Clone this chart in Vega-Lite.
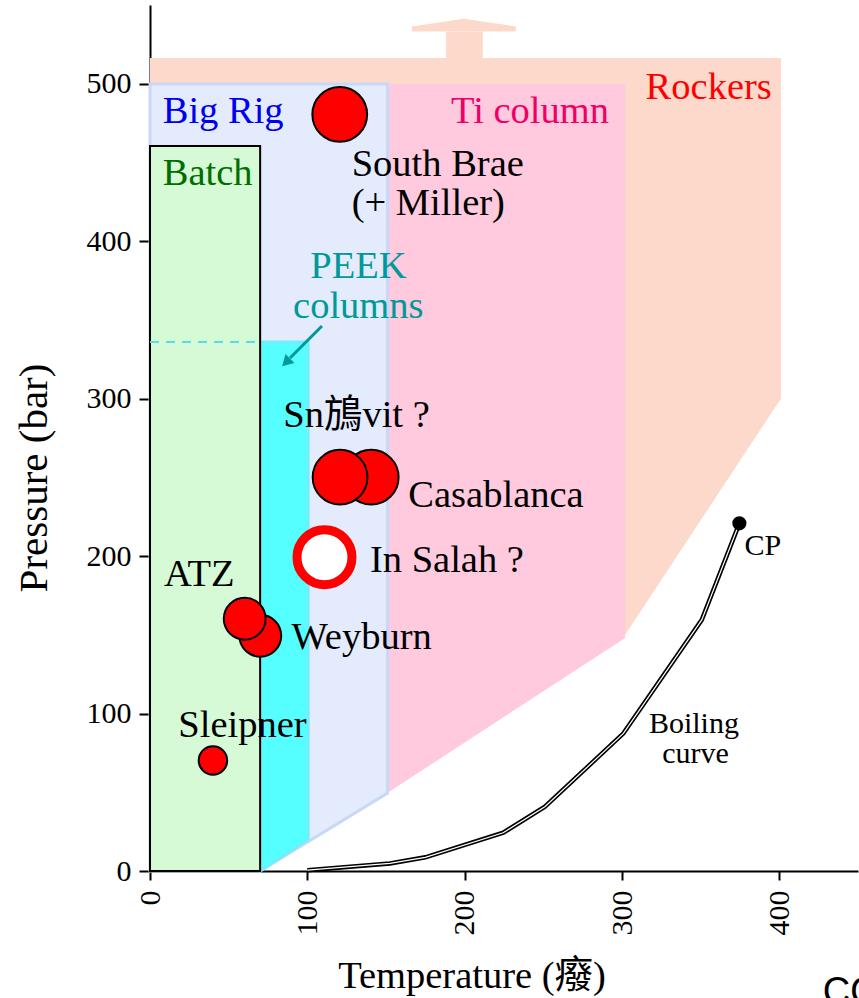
{
  "$schema": "https://vega.github.io/schema/vega-lite/v6.json",
  "width": 708,
  "height": 866,
  "autosize": {"type": "none"},
  "padding": {"left": 150, "top": 5, "right": 1, "bottom": 127},
  "background": "white",
  "config": {
    "view": {"stroke": null},
    "font": "Liberation Serif",
    "axis": {"labelFont": "Liberation Serif", "titleFont": "Liberation Serif"}
  },
  "datasets": {
    "regions": [
      {"r": "rockers", "x": 0, "y": 0, "y2": 516.4},
      {"r": "rockers", "x": 70, "y": 0, "y2": 516.4},
      {"r": "rockers", "x": 300, "y": 147, "y2": 516.4},
      {"r": "rockers", "x": 401, "y": 300, "y2": 516.4},
      {"r": "shaft", "x": 188.2, "y": 516, "y2": 533.2},
      {"r": "shaft", "x": 211.5, "y": 516, "y2": 533.2},
      {"r": "head", "x": 166.5, "y": 533.2, "y2": 536.4},
      {"r": "head", "x": 199.5, "y": 533.2, "y2": 541.3},
      {"r": "head", "x": 232.5, "y": 533.2, "y2": 536.4},
      {"r": "ti", "x": 70, "y": 0, "y2": 499.8},
      {"r": "ti", "x": 150, "y": 49, "y2": 499.8},
      {"r": "ti", "x": 302, "y": 148, "y2": 499.8},
      {"r": "bigrig", "x": 0, "y": 0, "y2": 499.8},
      {"r": "bigrig", "x": 70, "y": 0, "y2": 499.8},
      {"r": "bigrig", "x": 151, "y": 49.5, "y2": 499.8},
      {"r": "peek", "x": 70, "y": 0, "y2": 336},
      {"r": "peek", "x": 100.5, "y": 20, "y2": 336},
      {"r": "batch", "x": 0, "y": 0, "y2": 460.5},
      {"r": "batch", "x": 70, "y": 0, "y2": 460.5}
    ],
    "dash": [{"x": 0, "x2": 70, "y": 336}],
    "arrow": [{"x": 109.3, "y": 346.1, "x2": 89, "y2": 325.8}],
    "arrowhead": [{"x": 87.3, "y": 323.9}],
    "curve": [
      {"x": 100, "y": 0.5},
      {"x": 152.5, "y": 4.8},
      {"x": 175, "y": 8.7},
      {"x": 224.5, "y": 24.3},
      {"x": 251, "y": 40.8},
      {"x": 300.9, "y": 87.4},
      {"x": 350.7, "y": 159.5},
      {"x": 374.6, "y": 220.8}
    ],
    "cp": [{"x": 374.6, "y": 220.8}],
    "sites": [
      {"site": "South Brae", "x": 120.6, "y": 480.5},
      {"site": "Casablanca B", "x": 140.6, "y": 250.1},
      {"site": "Casablanca A", "x": 120.8, "y": 250.1},
      {"site": "Weyburn", "x": 70.1, "y": 149.4},
      {"site": "ATZ", "x": 60.2, "y": 160.2},
      {"site": "Sleipner", "x": 40, "y": 70.2},
      {"site": "In Salah", "x": 110.9, "y": 199.3}
    ],
    "labels": [
      {"g": "site", "text": "South Brae", "x": 128.2, "y": 441.4},
      {"g": "site", "text": "(+ Miller)", "x": 128.2, "y": 416.6},
      {"g": "site", "text": "Sn鴋vit ?", "x": 84.7, "y": 282.2},
      {"g": "site", "text": "Casablanca", "x": 164.2, "y": 231.3},
      {"g": "site", "text": "In Salah ?", "x": 139.8, "y": 190.1},
      {"g": "site", "text": "ATZ", "x": 8.9, "y": 181},
      {"g": "site", "text": "Weyburn", "x": 90, "y": 140.8},
      {"g": "site", "text": "Sleipner", "x": 18, "y": 85.3},
      {"g": "bigrig", "text": "Big Rig", "x": 8.1, "y": 475.3},
      {"g": "batch", "text": "Batch", "x": 8.1, "y": 435.7},
      {"g": "ti", "text": "Ti column", "x": 291.7, "y": 475.3},
      {"g": "rockers", "text": "Rockers", "x": 395.2, "y": 490.3},
      {"g": "peek", "text": "PEEK", "x": 132.5, "y": 376.4},
      {"g": "peek", "text": "columns", "x": 132.4, "y": 351},
      {"g": "boil", "text": "Boiling", "x": 345.7, "y": 87.4},
      {"g": "boil", "text": "curve", "x": 346.7, "y": 68.4},
      {"g": "cp", "text": "CP", "x": 377.8, "y": 200.7},
      {"g": "co", "text": "CO₂", "x": 427.6, "y": -84.5}
    ]
  },
  "encoding": {
    "x": {
      "field": "x",
      "type": "quantitative",
      "scale": {"domain": [0, 450], "nice": false, "zero": false},
      "axis": {
        "values": [0, 100, 200, 300, 400],
        "grid": false,
        "domainColor": "black",
        "domainWidth": 2,
        "tickColor": "black",
        "tickWidth": 2,
        "tickSize": 9,
        "labelAngle": -90,
        "labelPadding": 10,
        "labelFont": "Liberation Serif",
        "labelFontSize": 30,
        "labelColor": "black",
        "title": "Temperature (癈)",
        "titleFont": "Liberation Serif, Noto Sans CJK SC",
        "titleFontSize": 38.5,
        "titleFontWeight": "normal",
        "titleColor": "black",
        "titleX": 321.5,
        "titleY": 116,
        "titleBaseline": "alphabetic",
        "titleAlign": "center"
      }
    },
    "y": {
      "field": "y",
      "type": "quantitative",
      "scale": {"domain": [0, 550], "nice": false, "zero": false},
      "axis": {
        "values": [0, 100, 200, 300, 400, 500],
        "grid": false,
        "domainColor": "black",
        "domainWidth": 2,
        "tickColor": "black",
        "tickWidth": 2,
        "tickSize": 11,
        "labelPadding": 8,
        "labelFont": "Liberation Serif",
        "labelFontSize": 30,
        "labelColor": "black",
        "title": "Pressure (bar)",
        "titleFont": "Liberation Serif",
        "titleFontSize": 41,
        "titleFontWeight": "normal",
        "titleColor": "black",
        "titleAngle": -90,
        "titleX": -104,
        "titleY": 472.5,
        "titleBaseline": "alphabetic",
        "titleAlign": "center"
      }
    }
  },
  "layer": [
    {
      "data": {"name": "regions"},
      "transform": [{"filter": "datum.r == 'rockers'"}],
      "mark": {"type": "area", "orient": "vertical", "color": "#FDD9CC"},
      "encoding": {"y2": {"field": "y2"}}
    },
    {
      "data": {"name": "regions"},
      "transform": [{"filter": "datum.r == 'shaft'"}],
      "mark": {"type": "area", "orient": "vertical", "color": "#FDD9CC"},
      "encoding": {"y2": {"field": "y2"}}
    },
    {
      "data": {"name": "regions"},
      "transform": [{"filter": "datum.r == 'head'"}],
      "mark": {"type": "area", "orient": "vertical", "color": "#FDD9CC"},
      "encoding": {"y2": {"field": "y2"}}
    },
    {
      "data": {"name": "regions"},
      "transform": [{"filter": "datum.r == 'ti'"}],
      "mark": {"type": "area", "orient": "vertical", "color": "#FFC9DE"},
      "encoding": {"y2": {"field": "y2"}}
    },
    {
      "data": {"name": "regions"},
      "transform": [{"filter": "datum.r == 'bigrig'"}],
      "mark": {"type": "area", "orient": "vertical", "color": "#E3EBFD", "stroke": "#C8D8F8", "strokeWidth": 3},
      "encoding": {"y2": {"field": "y2"}}
    },
    {
      "data": {"name": "regions"},
      "transform": [{"filter": "datum.r == 'peek'"}],
      "mark": {"type": "area", "orient": "vertical", "color": "#55FFFF", "stroke": "#70EEFF", "strokeWidth": 3},
      "encoding": {"y2": {"field": "y2"}}
    },
    {
      "data": {"name": "regions"},
      "transform": [{"filter": "datum.r == 'batch'"}],
      "mark": {"type": "area", "orient": "vertical", "color": "#D5FAD5", "stroke": "black", "strokeWidth": 2},
      "encoding": {"y2": {"field": "y2"}}
    },
    {
      "data": {"name": "dash"},
      "mark": {"type": "rule", "color": "#55DDEE", "strokeWidth": 2, "strokeDash": [9, 7]},
      "encoding": {"x2": {"field": "x2"}}
    },
    {
      "data": {"name": "curve"},
      "mark": {"type": "line", "color": "black", "strokeWidth": 4.5},
      "encoding": {"order": {"field": "x"}}
    },
    {
      "data": {"name": "curve"},
      "mark": {"type": "line", "color": "white", "strokeWidth": 1.2},
      "encoding": {"order": {"field": "x"}}
    },
    {
      "data": {"name": "cp"},
      "mark": {"type": "point", "shape": "circle", "filled": true, "color": "black", "size": 200, "opacity": 1}
    },
    {
      "data": {"name": "sites"},
      "transform": [{"filter": "datum.site == 'South Brae' || datum.site == 'Casablanca A' || datum.site == 'Casablanca B'"}],
      "mark": {"type": "point", "shape": "circle", "fill": "#FF0000", "stroke": "black", "strokeWidth": 2, "size": 3000, "opacity": 1, "fillOpacity": 1}
    },
    {
      "data": {"name": "sites"},
      "transform": [{"filter": "datum.site == 'Weyburn' || datum.site == 'ATZ'"}],
      "mark": {"type": "point", "shape": "circle", "fill": "#FF0000", "stroke": "black", "strokeWidth": 2, "size": 1750, "opacity": 1, "fillOpacity": 1}
    },
    {
      "data": {"name": "sites"},
      "transform": [{"filter": "datum.site == 'Sleipner'"}],
      "mark": {"type": "point", "shape": "circle", "fill": "#FF0000", "stroke": "black", "strokeWidth": 2, "size": 810, "opacity": 1, "fillOpacity": 1}
    },
    {
      "data": {"name": "sites"},
      "transform": [{"filter": "datum.site == 'In Salah'"}],
      "mark": {"type": "point", "shape": "circle", "fill": "white", "stroke": "#FF0000", "strokeWidth": 9, "size": 3020, "opacity": 1, "fillOpacity": 1}
    },
    {
      "data": {"name": "arrow"},
      "mark": {"type": "rule", "color": "#009999", "strokeWidth": 3},
      "encoding": {"x2": {"field": "x2"}, "y2": {"field": "y2"}}
    },
    {
      "data": {"name": "arrowhead"},
      "mark": {"type": "point", "shape": "triangle", "filled": true, "color": "#009999", "size": 160, "angle": 225, "opacity": 1}
    },
    {
      "data": {"name": "labels"},
      "transform": [{"filter": "datum.g == 'site'"}],
      "mark": {"type": "text", "align": "left", "baseline": "alphabetic", "font": "Liberation Serif, Noto Sans CJK SC", "fontSize": 38.5, "color": "black"},
      "encoding": {"text": {"field": "text"}}
    },
    {
      "data": {"name": "labels"},
      "transform": [{"filter": "datum.g == 'bigrig'"}],
      "mark": {"type": "text", "align": "left", "baseline": "alphabetic", "font": "Liberation Serif", "fontSize": 38.5, "color": "#0000EE"},
      "encoding": {"text": {"field": "text"}}
    },
    {
      "data": {"name": "labels"},
      "transform": [{"filter": "datum.g == 'batch'"}],
      "mark": {"type": "text", "align": "left", "baseline": "alphabetic", "font": "Liberation Serif", "fontSize": 38.5, "color": "#006E00"},
      "encoding": {"text": {"field": "text"}}
    },
    {
      "data": {"name": "labels"},
      "transform": [{"filter": "datum.g == 'ti'"}],
      "mark": {"type": "text", "align": "right", "baseline": "alphabetic", "font": "Liberation Serif", "fontSize": 38.5, "color": "#F00066"},
      "encoding": {"text": {"field": "text"}}
    },
    {
      "data": {"name": "labels"},
      "transform": [{"filter": "datum.g == 'rockers'"}],
      "mark": {"type": "text", "align": "right", "baseline": "alphabetic", "font": "Liberation Serif", "fontSize": 38.5, "color": "#FF0000"},
      "encoding": {"text": {"field": "text"}}
    },
    {
      "data": {"name": "labels"},
      "transform": [{"filter": "datum.g == 'peek'"}],
      "mark": {"type": "text", "align": "center", "baseline": "alphabetic", "font": "Liberation Serif", "fontSize": 38.5, "color": "#009999"},
      "encoding": {"text": {"field": "text"}}
    },
    {
      "data": {"name": "labels"},
      "transform": [{"filter": "datum.g == 'boil'"}],
      "mark": {"type": "text", "align": "center", "baseline": "alphabetic", "font": "Liberation Serif", "fontSize": 30, "color": "black"},
      "encoding": {"text": {"field": "text"}}
    },
    {
      "data": {"name": "labels"},
      "transform": [{"filter": "datum.g == 'cp'"}],
      "mark": {"type": "text", "align": "left", "baseline": "alphabetic", "font": "Liberation Serif", "fontSize": 30, "color": "black"},
      "encoding": {"text": {"field": "text"}}
    },
    {
      "data": {"name": "labels"},
      "transform": [{"filter": "datum.g == 'co'"}],
      "mark": {"type": "text", "align": "left", "baseline": "alphabetic", "font": "Liberation Sans", "fontSize": 38, "color": "black"},
      "encoding": {"text": {"field": "text"}}
    }
  ]
}
